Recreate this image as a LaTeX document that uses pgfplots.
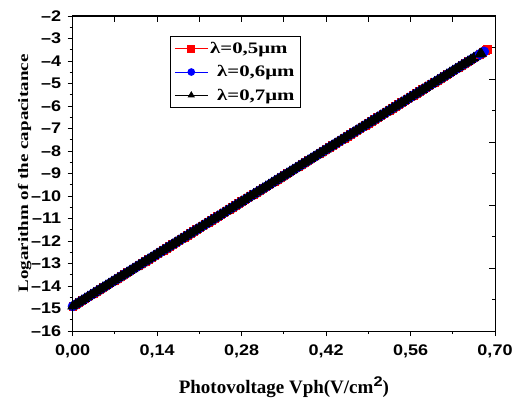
\documentclass[border=0pt]{standalone}
\usepackage{fontspec}
\setmainfont{Liberation Serif}
\newfontfamily\tickfont{Liberation Sans}[FakeStretch=1.17]
\newfontfamily\legfont{Liberation Serif}[FakeStretch=1.3]
\newfontfamily\ylabfont{Liberation Serif}[FakeStretch=1.32]
\usepackage{pgfplots}
\pgfplotsset{compat=1.18}
\usepackage{pgfplotstable}

\pgfplotstableread{
x y
0.000 -14.900
0.005 -14.817
0.010 -14.734
0.015 -14.651
0.020 -14.568
0.025 -14.485
0.030 -14.402
0.035 -14.319
0.040 -14.236
0.045 -14.153
0.050 -14.070
0.055 -13.987
0.060 -13.904
0.065 -13.821
0.070 -13.738
0.075 -13.655
0.080 -13.572
0.085 -13.489
0.090 -13.406
0.095 -13.323
0.100 -13.240
0.105 -13.157
0.110 -13.074
0.115 -12.991
0.120 -12.908
0.125 -12.825
0.130 -12.742
0.135 -12.659
0.140 -12.576
0.145 -12.493
0.150 -12.410
0.155 -12.327
0.160 -12.244
0.165 -12.161
0.170 -12.078
0.175 -11.995
0.180 -11.912
0.185 -11.829
0.190 -11.746
0.195 -11.663
0.200 -11.580
0.205 -11.497
0.210 -11.414
0.215 -11.331
0.220 -11.248
0.225 -11.165
0.230 -11.082
0.235 -10.999
0.240 -10.916
0.245 -10.833
0.250 -10.750
0.255 -10.667
0.260 -10.584
0.265 -10.501
0.270 -10.418
0.275 -10.335
0.280 -10.252
0.285 -10.169
0.290 -10.086
0.295 -10.003
0.300 -9.920
0.305 -9.837
0.310 -9.754
0.315 -9.671
0.320 -9.588
0.325 -9.505
0.330 -9.422
0.335 -9.339
0.340 -9.256
0.345 -9.173
0.350 -9.090
0.355 -9.007
0.360 -8.924
0.365 -8.841
0.370 -8.758
0.375 -8.675
0.380 -8.592
0.385 -8.509
0.390 -8.426
0.395 -8.343
0.400 -8.260
0.405 -8.177
0.410 -8.094
0.415 -8.011
0.420 -7.928
0.425 -7.845
0.430 -7.762
0.435 -7.679
0.440 -7.596
0.445 -7.513
0.450 -7.430
0.455 -7.347
0.460 -7.264
0.465 -7.181
0.470 -7.098
0.475 -7.015
0.480 -6.932
0.485 -6.849
0.490 -6.766
0.495 -6.683
0.500 -6.600
0.505 -6.517
0.510 -6.434
0.515 -6.351
0.520 -6.268
0.525 -6.185
0.530 -6.102
0.535 -6.019
0.540 -5.936
0.545 -5.853
0.550 -5.770
0.555 -5.687
0.560 -5.604
0.565 -5.521
0.570 -5.438
0.575 -5.355
0.580 -5.272
0.585 -5.189
0.590 -5.106
0.595 -5.023
0.600 -4.940
0.605 -4.857
0.610 -4.774
0.615 -4.691
0.620 -4.608
0.625 -4.525
0.630 -4.442
0.635 -4.359
0.640 -4.276
0.645 -4.193
0.650 -4.110
0.655 -4.027
0.660 -3.944
0.665 -3.861
0.670 -3.778
0.675 -3.695
}\common

\begin{document}
\begin{tikzpicture}[x=1bp,y=1bp]
\useasboundingbox (0,0) rectangle (514,403);
% main axis: left/bottom ticks outside, with labels
\begin{axis}[
  at={(72.7bp,72bp)}, anchor=south west,
  scale only axis, width=422.3bp, height=315bp,
  xmin=0, xmax=0.7, ymin=-16, ymax=-2,
  axis line style={line width=1pt},
  tick pos=left, tick align=outside,
  major tick length=5bp, minor tick length=3bp,
  every tick/.style={line width=1pt, black},
  xtick={0,0.14,0.28,0.42,0.56,0.7},
  xticklabels={{0,00},{0,14},{0,28},{0,42},{0,56},{0,70}},
  minor x tick num=1,
  ytick={-16,-15,-14,-13,-12,-11,-10,-9,-8,-7,-6,-5,-4,-3,-2},
  yticklabels={–16,–15,–14,–13,–12,–11,–10,–9,–8,–7,–6,–5,–4,–3,–2},
  minor y tick num=1,
  ticklabel style={font=\tickfont\bfseries\fontsize{15.4bp}{17bp}\selectfont},
  xticklabel style={yshift=-5bp},
  yticklabel style={xshift=-3bp},
  xlabel={Photovoltage Vph(V/cm\raisebox{7bp}{\tickfont\bfseries\fontsize{14bp}{14bp}\selectfont 2})},
  xlabel style={font=\bfseries\fontsize{19bp}{22bp}\selectfont, at={(axis description cs:0.5,0)}, anchor=base, yshift=-62bp},
  ylabel={Logarithm of the capacitance},
  ylabel style={font=\ylabfont\bfseries\fontsize{14.4bp}{16bp}\selectfont, at={(axis description cs:-0.1058,0.5)}, anchor=base},
  legend style={at={(0.2304,0.9365)}, anchor=north west, draw=black, line width=0.8pt,
     font=\legfont\bfseries\fontsize{16bp}{17bp}\selectfont, row sep=6.5bp, inner xsep=4bp, inner ysep=4bp},
  legend cell align=left,
  legend image code/.code={\draw[#1, line width=0.8pt] (0bp,0bp) -- (33bp,0bp); \draw[#1, only marks, mark size=3.4bp] plot coordinates {(16.5bp,0bp)};},
]
\addplot[red, line width=0.8pt, mark=square*, mark size=3.8bp, mark options={solid, fill=red}] table {\common};
\addlegendentry{λ=0,5μm}
\addplot[blue, line width=0.8pt, mark=*, mark size=4.6bp, mark options={solid, fill=blue}] table {\common};
\addlegendentry{\hspace{7bp}λ=0,6μm}
\addplot[black, line width=0.8pt, mark=triangle*, mark size=5.5bp, mark options={solid, fill=black}] table {\common};
\addlegendentry{\hspace{7bp}λ=0,7μm}
\addplot[red, line width=0.8pt, mark=square*, mark size=3.8bp, mark options={solid, fill=red}, forget plot] coordinates {(0.675,-3.695)(0.680,-3.612)(0.685,-3.529)(0.687,-3.496)};
\addplot[blue, line width=0.8pt, mark=*, mark size=4.6bp, mark options={solid, fill=blue}, forget plot] coordinates {(0.675,-3.695)(0.680,-3.612)(0.682,-3.579)};
\addplot[black, line width=0.8pt, mark=triangle*, mark size=5.5bp, mark options={solid, fill=black}, forget plot] coordinates {(0.675,-3.695)(0.677,-3.662)};
\end{axis}
% overlay axis: top/right ticks inside, no labels
\begin{axis}[
  at={(72.7bp,72bp)}, anchor=south west,
  scale only axis, width=422.3bp, height=315bp,
  xmin=0, xmax=0.7, ymin=0, ymax=10,
  axis line style={line width=1pt},
  tick pos=right, tick align=inside,
  major tick length=6bp, minor tick length=3bp,
  every tick/.style={line width=1pt, black},
  xtick={0,0.07,0.14,0.21,0.28,0.35,0.42,0.49,0.56,0.63,0.7},
  xticklabels={},
  ytick={0,2,4,6,8,10}, yticklabels={},
  minor ytick={1,3,5,7,9},
]
\end{axis}
\end{tikzpicture}
\end{document}
